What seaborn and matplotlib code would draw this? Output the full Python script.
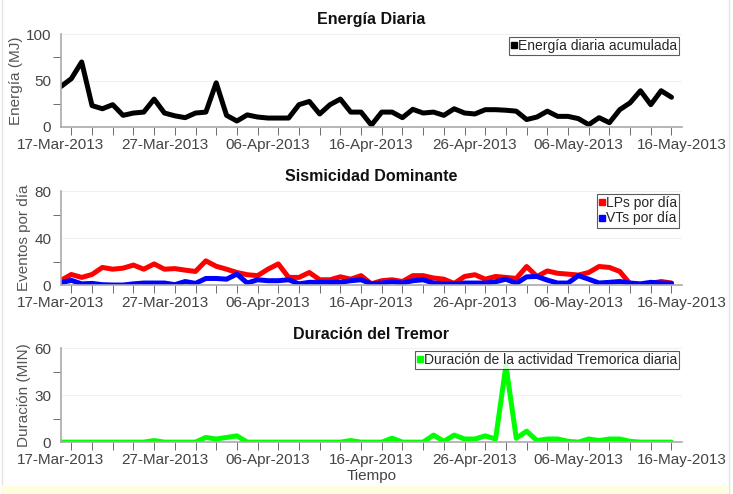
import pandas as pd
import matplotlib
matplotlib.use('Agg')
import matplotlib.pyplot as plt
import matplotlib.dates as mdates
from matplotlib.lines import Line2D
from matplotlib.patches import Rectangle
import seaborn as sns

# datos diarios 17-Mar-2013 .. 15-May-2013
fechas = pd.date_range('2013-03-17', periods=60, freq='D')

energia = [43.6, 52, 70, 23, 19.6, 24, 12.5, 15, 16, 30,
           15, 12, 10, 15, 16, 47.5, 12.5, 6.4, 13, 10.7,
           9.6, 9.6, 9.6, 24, 27.5, 14, 24, 30, 16, 16,
           2, 16, 16, 10, 19, 15, 16, 12.5, 19.6, 15,
           14, 18.6, 18.6, 18, 17, 8, 10.7, 17, 11.4, 11.4,
           9, 2.5, 10, 4.6, 18.6, 26, 39, 24, 39, 32]

lps = [4, 9, 6.5, 9, 15, 13.5, 14.4, 17, 13.5, 18,
       13.5, 14, 12.7, 11.6, 20.6, 16, 13.5, 10.7, 8.8, 8,
       13.5, 18, 6.5, 6.5, 10.7, 4.5, 4.5, 7, 5, 8,
       1, 3.7, 4.5, 3, 8, 8, 6, 5, 1.4, 7.3,
       8.8, 5, 7.3, 6.5, 5.6, 15.8, 7.3, 12, 10, 9.3,
       8.5, 10.7, 15.8, 15, 11.6, 1, 0, 1.4, 3, 1.7]

vts = [2, 4, 1, 1.4, 0.3, 0, 0, 1, 1.7, 1.7,
       1.7, 0.3, 3, 1.4, 5.6, 5.6, 5, 9.3, 1.7, 4.5,
       3.7, 3.7, 4.5, 1, 2.3, 2.3, 2.3, 2.3, 3.7, 4.5,
       1, 1.7, 2.8, 1.7, 3.7, 4.5, 1.7, 1, 1, 1.7,
       1.7, 1.7, 2.8, 5, 1.4, 7, 7.3, 4.2, 1.7, 1.7,
       8, 5, 1.7, 2.3, 3, 1.7, 1, 2.3, 1.7, 1.4]

tremor = [0, 0, 0, 0, 0, 0, 0, 0, 0, 1,
          0, 0, 0, 0, 3, 2, 3, 4, 0, 0,
          0, 0, 0, 0, 0, 0, 0, 0, 1, 0,
          0, 0, 2.5, 0, 0, 0, 4.5, 0.5, 4.5, 2,
          2, 4, 2, 49, 2.5, 7, 1, 2, 2, 0.5,
          0, 2, 1, 2, 2, 0.5, 0, 0, 0, 0]

xticks = pd.date_range('2013-03-17', periods=7, freq='10D')

sns.set_style('white')
plt.rcParams['font.family'] = ['Liberation Sans', 'DejaVu Sans']

df = pd.DataFrame({'Fecha': fechas, 'Energia': energia, 'LP': lps, 'VT': vts, 'Tremor': tremor})

fig = plt.figure(figsize=(7.33, 4.94), dpi=100)
# franja amarilla inferior y bordes de la captura
fig.patches.append(Rectangle((0.003, 0.0), 0.992, 0.018, transform=fig.transFigure,
                             facecolor='#ffffe0', edgecolor='none', zorder=-5))
fig.lines.append(Line2D([0.995, 0.995], [0, 1], transform=fig.transFigure,
                        color='#e4e4e4', lw=1, zorder=-5))
fig.lines.append(Line2D([0.003, 0.003], [0, 1], transform=fig.transFigure,
                        color='#e4e4e4', lw=1, zorder=-5))

ax1 = fig.add_axes([0.0832, 0.743, 0.847, 0.188])
ax2 = fig.add_axes([0.0832, 0.423, 0.847, 0.190])
ax3 = fig.add_axes([0.0832, 0.105, 0.847, 0.190])

sns.lineplot(data=df, x='Fecha', y='Energia', ax=ax1, color='black', lw=3.6, legend=False)
sns.lineplot(data=df, x='Fecha', y='LP', ax=ax2, color='#ff0000', lw=3.6, legend=False)
sns.lineplot(data=df, x='Fecha', y='VT', ax=ax2, color='#0000ff', lw=3.6, legend=False)
sns.lineplot(data=df, x='Fecha', y='Tremor', ax=ax3, color='#00ff00', lw=3.6, legend=False)

config = [
    (ax1, 'Energía Diaria', 'Energía (MJ)', 100, [0, 50, 100], [25, 75],
     [('Energía diaria acumulada', 'black')]),
    (ax2, 'Sismicidad Dominante', 'Eventos por día', 80, [0, 40, 80], [20, 60],
     [('LPs por día', '#ff0000'), ('VTs por día', '#0000ff')]),
    (ax3, 'Duración del Tremor', 'Duración (MIN)', 60, [0, 30, 60], [15, 45],
     [('Duración de la actividad Tremorica diaria', '#00ff00')]),
]

for ax, titulo, ylab, ymax, yt, ymin_t, ley in config:
    ax.set_facecolor('none')
    ax.set_xlim(pd.Timestamp('2013-03-17'), pd.Timestamp('2013-05-16'))
    ax.set_ylim(0, ymax)
    ax.set_yticks(yt)
    ax.set_yticks(ymin_t, minor=True)
    ax.set_xticks(xticks)
    ax.xaxis.set_minor_locator(mdates.DayLocator(interval=2))
    ax.xaxis.set_major_formatter(mdates.DateFormatter('%d-%b-%Y'))
    ax.grid(axis='y', which='major', color='#f0f0f0', lw=0.8)
    ax.set_axisbelow(True)
    for s in ['top', 'right']:
        ax.spines[s].set_visible(False)
    for s in ['left', 'bottom']:
        ax.spines[s].set_color('#aaaaaa')
        ax.spines[s].set_linewidth(1.2)
    ax.tick_params(which='both', direction='out', colors='#555555', labelcolor='#444444',
                   labelsize=11)
    ax.tick_params(which='major', length=6)
    ax.tick_params(which='minor', length=6, bottom=True, left=True)
    ax.tick_params(axis='x', pad=2)
    ax.tick_params(axis='y', pad=1)
    ax.set_title(titulo, fontsize=11.5, fontweight='bold', color='#111111', pad=7)
    ax.set_ylabel(ylab, fontsize=11, color='#555555', labelpad=2)
    ax.set_xlabel('')
    handles = [Line2D([], [], marker='s', ls='none', color=c, markersize=4.5) for _, c in ley]
    leg = ax.legend(handles, [t for t, _ in ley], loc='upper right', bbox_to_anchor=(1.0, 1.0),
                    fontsize=10, frameon=True, fancybox=False, handlelength=0.4,
                    handletextpad=0.1, borderpad=0.15, labelspacing=0.1, borderaxespad=0.2)
    leg.get_frame().set_edgecolor('#333333')
    leg.get_frame().set_linewidth(0.8)

ax3.set_xlabel('Tiempo', fontsize=11, color='#444444', labelpad=1)

fig.savefig('out.png', dpi=100)
